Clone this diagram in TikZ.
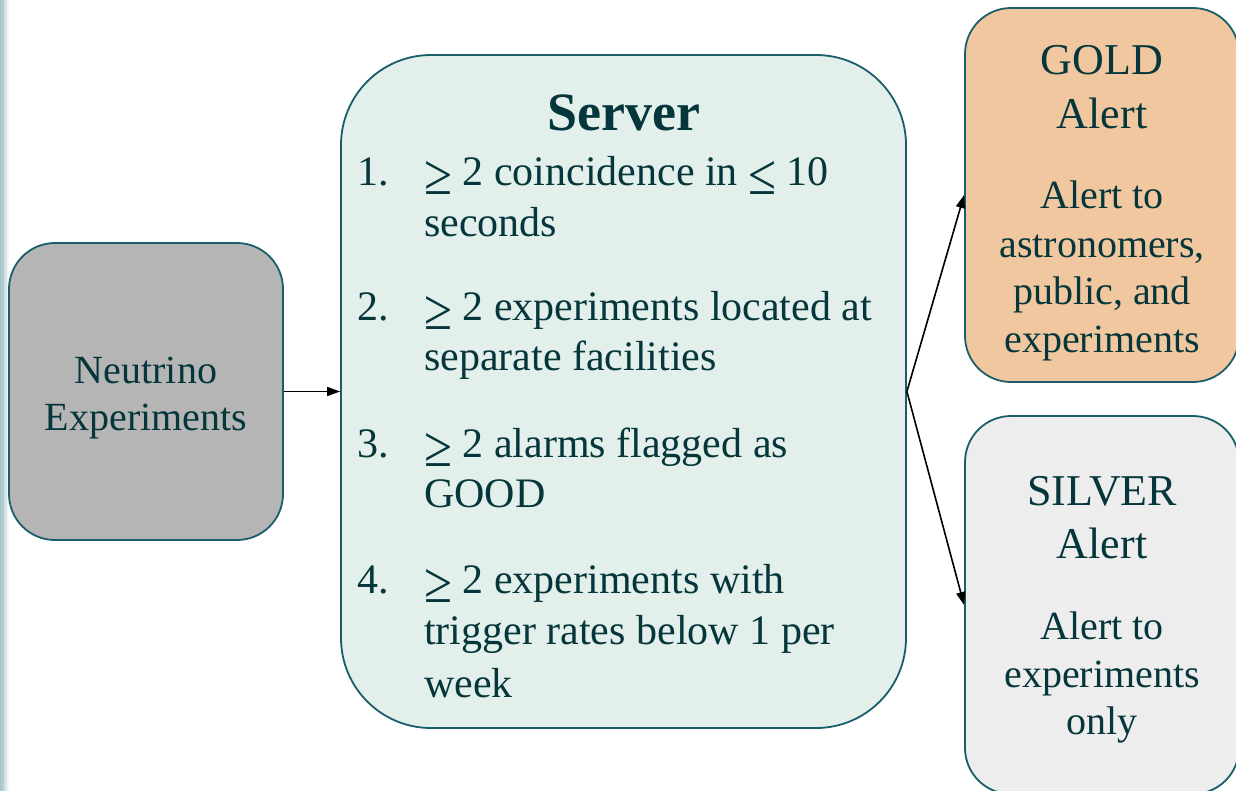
\documentclass[tikz,border=0pt]{standalone}
\usepackage{graphicx}
\usepackage{fontspec}
\setmainfont{Liberation Serif}
\usetikzlibrary{arrows.meta}
\definecolor{bordc}{HTML}{1A5E69}
\definecolor{txtc}{HTML}{05363B}
\definecolor{srvfill}{HTML}{E2EFEB}
\definecolor{goldfill}{HTML}{F1C79F}
\definecolor{silvfill}{HTML}{EDEDED}
\definecolor{neufill}{HTML}{B5B5B5}
\definecolor{barc}{HTML}{A3C3C6}
\newcommand{\myge}{\raisebox{-9pt}{\resizebox{28pt}{33pt}{≥}}}
\newcommand{\myle}{\raisebox{-9pt}{\resizebox{28pt}{33pt}{≤}}}
\tikzset{
  box/.style={draw=bordc, line width=1.8pt, inner sep=0pt},
  ln/.style={text=txtc, anchor=base, inner sep=0pt},
  lnw/.style={text=txtc, anchor=base west, inner sep=0pt},
  listfont/.style={font=\fontsize{42}{50}\selectfont},
  neufont/.style={font=\fontsize{40}{47}\selectfont},
  headfont/.style={font=\fontsize{44}{54}\selectfont},
  bodyfont/.style={font=\fontsize{40}{48}\selectfont},
  conn/.style={line width=1.6pt, -{Triangle[length=13pt,width=9pt]}}
}
\begin{document}
\begin{tikzpicture}[x=1pt,y=-1pt]
\useasboundingbox (0,0) rectangle (1236,790);
\clip (0,0) rectangle (1236,790);
\fill[white] (0,0) rectangle (1236,790);
\shade[left color=barc, right color=white] (0,0) rectangle (9,790);
\fill[barc!80] (1,0) rectangle (4,790);

% boxes
\node[box, fill=neufill, rounded corners=46pt, minimum width=274pt, minimum height=297pt] (neu) at (146,391.5) {};
\node[box, fill=srvfill, rounded corners=90pt, minimum width=565pt, minimum height=673pt] (srv) at (623.5,391.5) {};
\node[box, fill=goldfill, rounded corners=46pt, minimum width=274pt, minimum height=374pt] (gold) at (1102,195) {};
\node[box, fill=silvfill, rounded corners=46pt, minimum width=274pt, minimum height=378pt] (silv) at (1102,605) {};

% connectors
\draw[conn] (neu.east) -- (srv.west);
\draw[conn] (srv.east) -- (gold.west);
\draw[conn] (srv.east) -- (silv.west);

% neutrino text
\node[ln, neufont] (neu1) at (146,383) {Neutrino};
\node[ln, neufont] (neu2) at (146,430) {Experiments};

% server text
\node[ln, font=\fontsize{54}{60}\selectfont\bfseries] (stitle) at (623.5,130) {Server};
\node[lnw, listfont] (n1) at (357,185) {1.};
\node[lnw, listfont] (t1a) at (424,185) {\myge{} 2 coincidence in \myle{} 10};
\node[lnw, listfont] (t1b) at (424,236) {seconds};
\node[lnw, listfont] (n2) at (357,320) {2.};
\node[lnw, listfont] (t2a) at (424,320) {\myge{} 2 experiments located at};
\node[lnw, listfont] (t2b) at (424,370) {separate facilities};
\node[lnw, listfont] (n3) at (357,457) {3.};
\node[lnw, listfont] (t3a) at (424,457) {\myge{} 2 alarms flagged as};
\node[lnw, listfont] (t3b) at (424,507) {GOOD};
\node[lnw, listfont] (n4) at (357,593) {4.};
\node[lnw, listfont] (t4a) at (424,593) {\myge{} 2 experiments with};
\node[lnw, listfont] (t4b) at (424,644) {trigger rates below 1 per};
\node[lnw, listfont] (t4c) at (424,697) {week};

% gold text
\node[ln, headfont] (g1) at (1102,74) {GOLD};
\node[ln, headfont] (g2) at (1102,128) {Alert};
\node[ln, bodyfont] (g3) at (1102,208) {Alert to};
\node[ln, bodyfont] (g4) at (1102,257) {astronomers,};
\node[ln, bodyfont] (g5) at (1102,304) {public, and};
\node[ln, bodyfont] (g6) at (1102,352) {experiments};

% silver text
\node[ln, headfont] (s1) at (1102,505) {SILVER};
\node[ln, headfont] (s2) at (1102,558) {Alert};
\node[ln, bodyfont] (s3) at (1102,639) {Alert to};
\node[ln, bodyfont] (s4) at (1102,687) {experiments};
\node[ln, bodyfont] (s5) at (1102,734) {only};
\end{tikzpicture}
\end{document}
